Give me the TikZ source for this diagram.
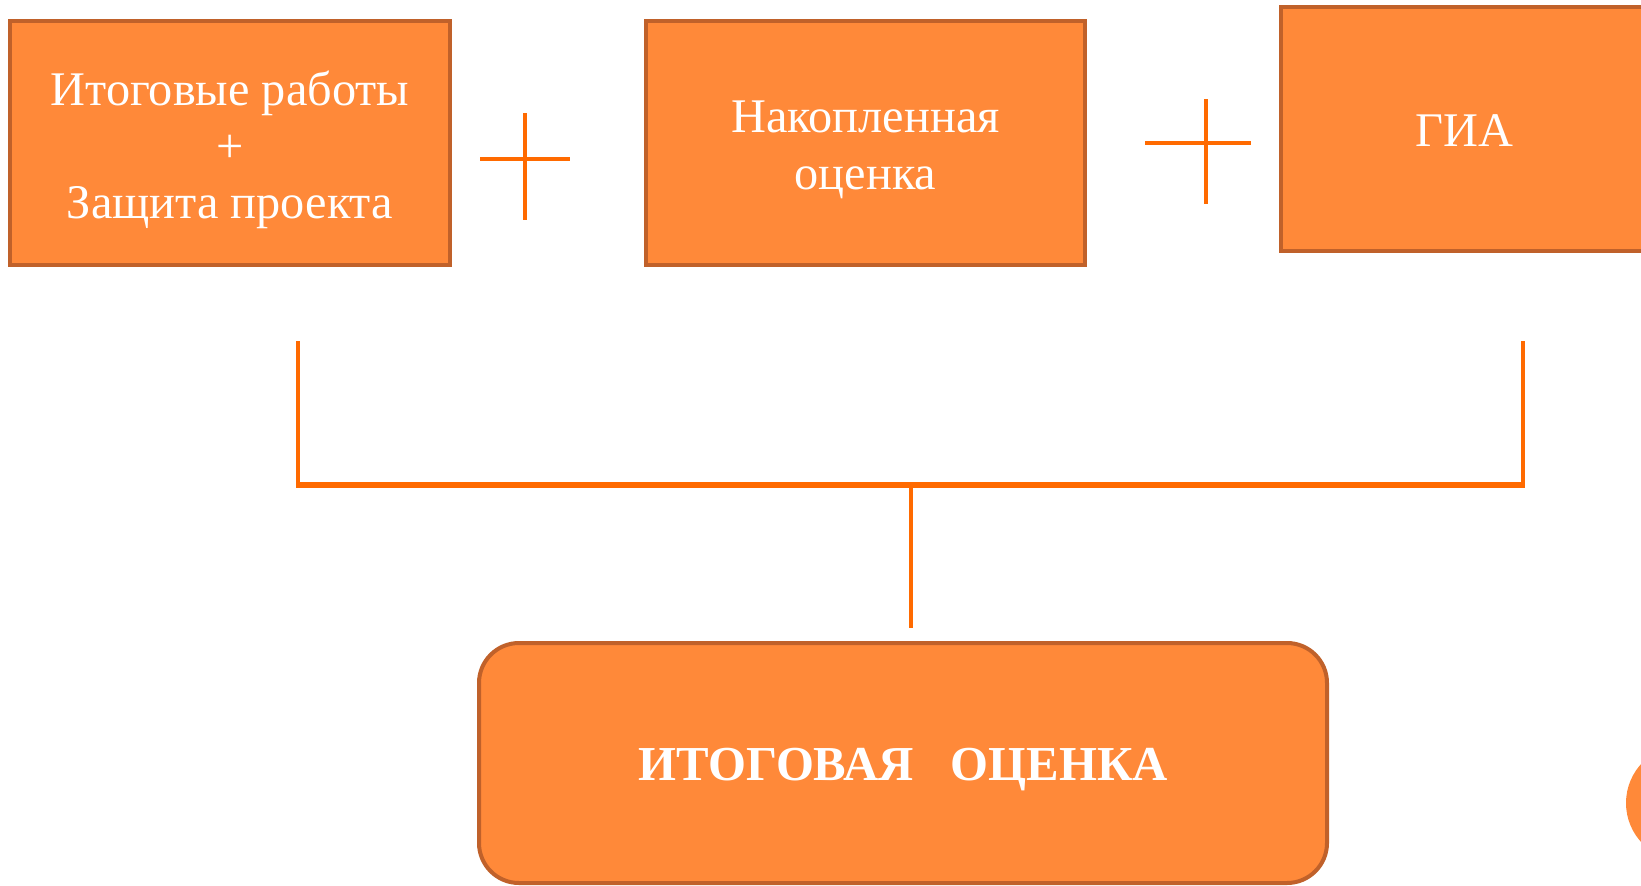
\documentclass[tikz,border=0pt]{standalone}
\usepackage{fontspec}
\setmainfont{Liberation Serif}
\definecolor{boxfill}{HTML}{FF8939}
\definecolor{boxline}{HTML}{C0612A}
\definecolor{linkcol}{HTML}{FF6A00}
\begin{document}
\begin{tikzpicture}[x=1bp,y=-1bp,
  box/.style={draw=boxline, fill=boxfill, line width=4bp, inner sep=0pt},
  boxtext/.style={text=white, align=center, inner sep=0pt, font=\fontsize{48.5}{57}\selectfont},
  linkv/.style={draw=linkcol, line width=4.5bp},
  linkh/.style={draw=linkcol, line width=6bp},
  plusmark/.style={draw=linkcol, line width=4.5bp}]
\useasboundingbox (0,0) rectangle (1641,885);
\clip (0,0) rectangle (1641,885);
% top boxes
\node[box, minimum width=440bp, minimum height=244bp] (b1) at (230,143) {};
\node[boxtext] (t1) at ([yshift=-7bp]b1.center) {Итоговые работы\\+\\Защита проекта};
\node[box, minimum width=439bp, minimum height=244bp] (b2) at (865.5,143) {};
\node[boxtext] (t2) at ([yshift=-7bp]b2.center) {Накопленная\\оценка};
\node[box, minimum width=367bp, minimum height=244bp] (b3) at (1464.5,129) {};
\node[boxtext] (t3) at ([yshift=-2bp]b3.center) {ГИА};
% plus signs
\draw[plusmark] (480,159) -- (570,159) (525,113) -- (525,220);
\draw[plusmark] (1145,143) -- (1251,143) (1206,99) -- (1206,204);
% bottom box
\node[box, rounded corners=40bp, minimum width=848bp, minimum height=240bp] (res) at (903,763) {};
\node[boxtext, font=\fontsize{49}{57}\selectfont\bfseries] (t4) at ([yshift=-7bp]res.center)
  {ИТОГОВАЯ\hspace{0.75em}ОЦЕНКА};
% partial circle at right edge
\node[circle, fill=boxfill, minimum size=116bp, inner sep=0pt] (dot) at (1684,803) {};
% bracket
\coordinate (lt) at (298,341);
\coordinate (lb) at (298,485);
\coordinate (rt) at (1523,341);
\coordinate (rb) at (1523,485);
\coordinate (mt) at (911,485);
\coordinate (mb) at (911,628);
\draw[linkv] (lt) -- (lb);
\draw[linkv] (rt) -- (rb);
\draw[linkh] ([xshift=-2bp]lb) -- ([xshift=2bp]rb);
\draw[linkv] (mt) -- (mb);
\end{tikzpicture}
\end{document}
